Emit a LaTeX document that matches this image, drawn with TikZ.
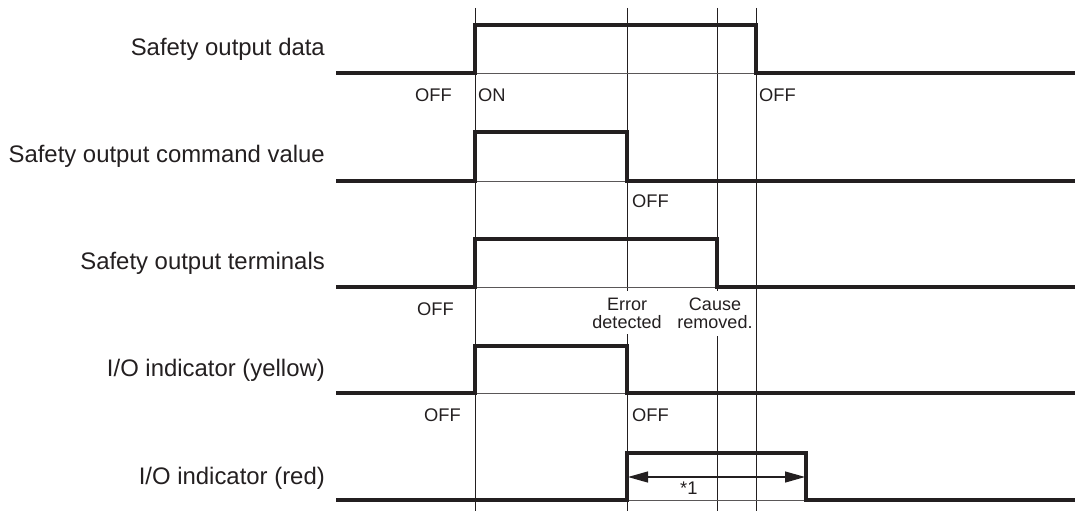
\documentclass[tikz,border=0pt]{standalone}
\usepackage{fontspec}
\setmainfont{Liberation Sans}
\usetikzlibrary{arrows.meta}
\definecolor{ink}{HTML}{231F20}
\begin{document}
\begin{tikzpicture}[x=1pt,y=-1pt,
  sig/.style={line width=3.3pt, draw=ink, line join=miter},
  vgrid/.style={line width=0.9pt, draw=ink},
  baseln/.style={line width=0.9pt, draw=ink!75},
  lab/.style={anchor=base east, inner sep=0pt, font=\fontsize{23.9}{26}\selectfont, text=ink},
  small/.style={anchor=base west, inner sep=0pt, font=\fontsize{18.3}{20}\selectfont, text=ink},
  twoline/.style={anchor=south, inner sep=0pt, align=center, font=\fontsize{18}{18.5}\selectfont, text=ink},
  dim/.style={line width=1.2pt, draw=ink, {Triangle[length=20pt,width=11pt]}-{Triangle[length=20pt,width=11pt]}},
]
\useasboundingbox (0,0) rectangle (1075,511);

% vertical time markers
\coordinate (v1t) at (475,8);   \coordinate (v1b) at (475,511);
\coordinate (v2t) at (627,8);   \coordinate (v2m) at (627,291);
\coordinate (v2n) at (627,334); \coordinate (v2b) at (627,511);
\coordinate (v3t) at (717,8);   \coordinate (v3m) at (717,291);
\coordinate (v3n) at (717,336); \coordinate (v3b) at (717,511);
\coordinate (v4t) at (756,8);   \coordinate (v4b) at (756,511);
\draw[vgrid] (v1t) -- (v1b);
\draw[vgrid] (v2t) -- (v2m);
\draw[vgrid] (v2n) -- (v2b);
\draw[vgrid] (v3t) -- (v3m);
\draw[vgrid] (v3n) -- (v3b);
\draw[vgrid] (v4t) -- (v4b);

% thin baselines under pulses
\draw[baseln] (475,73) -- (756,73);
\draw[baseln] (475,181) -- (627,181);
\draw[baseln] (475,287) -- (717,287);
\draw[baseln] (475,393) -- (627,393);
\draw[baseln] (627,500) -- (806,500);

% signal traces
\draw[sig] (336,73) -| (475,25) -| (756,73) -- (1075,73);
\draw[sig] (336,181) -| (475,132) -| (627,181) -- (1075,181);
\draw[sig] (336,287) -| (475,239) -| (717,287) -- (1075,287);
\draw[sig] (336,393) -| (475,346) -| (627,393) -- (1075,393);
\draw[sig] (336,500) -| (627,453) -| (806,500) -- (1075,500);

% row labels
\node[lab] (l1) at (325,56) {Safety output data};
\node[lab] (l2) at (325,162) {Safety output command value};
\node[lab] (l3) at (325,269) {Safety output terminals};
\node[lab] (l4) at (325,376) {I/O indicator (yellow)};
\node[lab] (l5) at (325,484) {I/O indicator (red)};

% state labels
\node[small] (o1a) at (415,101) {OFF};
\node[small] (o1b) at (478,101) {ON};
\node[small] (o1c) at (759,101) {OFF};
\node[small] (o2a) at (632,207) {OFF};
\node[small] (o3a) at (417,315) {OFF};
\node[twoline] (err) at (627,329) {Error\\detected};
\node[twoline] (cause) at (715,329) {Cause\\removed.};
\node[small] (o4a) at (424,421) {OFF};
\node[small] (o4b) at (632,421) {OFF};

% duration arrow
\coordinate (a1) at (628,477);
\coordinate (a2) at (805,477);
\draw[dim] (a1) -- (a2);
\node[small] (n1) at (680,494) {*1};
\end{tikzpicture}
\end{document}
